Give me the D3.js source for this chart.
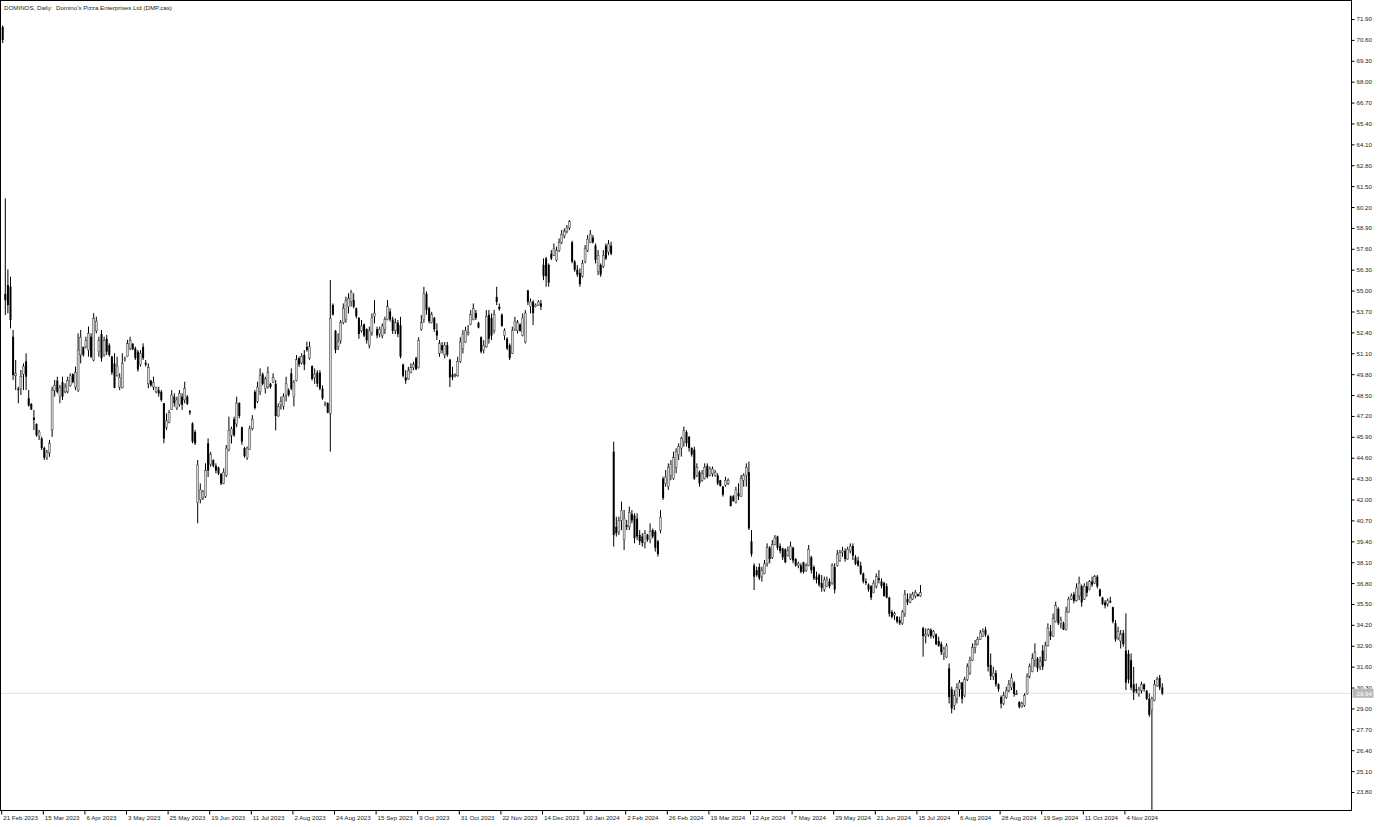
<!DOCTYPE html>
<html>
<head>
<meta charset="utf-8">
<script src="https://cdn.jsdelivr.net/npm/d3@7"></script>
<style>
  html, body { margin: 0; padding: 0; background: #fff; }
  svg { display: block; }
</style>
</head>
<body>
<div id="chart"></div>
<script>
// ============================
// Data: daily bars as [open, high, low, close]
// ============================

const symbolTitle = "DOMINOS, Daily:  Domino's Pizza Enterprises Ltd (DMP.cas)";

const barsFebJun2023 = [
  [71.40,71.50,70.40,70.60],[54.80,60.74,53.48,54.40],[55.35,56.32,53.59,54.10],[55.24,55.87,52.65,53.17],
  [52.13,52.55,49.44,49.75],[49.70,50.68,48.81,49.85],[48.90,49.02,47.99,48.80],[48.90,50.06,48.50,49.64],
  [49.80,50.47,48.81,50.30],[50.60,51.10,48.81,49.64],[48.30,48.81,47.78,47.85],[47.95,47.99,47.57,47.60],
  [47.10,47.57,46.33,46.95],[46.70,46.74,45.91,46.00],[45.95,46.33,45.70,46.20],[45.80,45.91,45.08,45.20],
  [45.20,45.29,44.46,44.60],[44.60,45.08,44.46,44.95],[44.90,45.70,44.66,45.50],[46.33,49.02,45.90,48.81],
  [48.80,49.44,48.40,49.10],[49.40,49.64,48.61,48.70],[48.40,49.13,47.99,48.95],[49.30,49.64,48.19,48.40],
  [48.70,49.23,48.61,49.00],[48.70,49.64,48.61,49.40],[49.10,49.85,49.02,49.70],[49.80,49.85,49.23,49.30],
  [49.00,50.27,48.81,49.90],[48.81,52.34,48.70,51.30],[51.00,52.55,50.47,52.10],[51.50,51.51,50.89,51.00],
  [51.50,52.13,51.40,51.90],[51.30,52.76,50.89,52.34],[52.13,52.34,50.80,50.89],[50.68,53.59,50.60,53.27],
  [52.50,53.38,52.34,53.10],[51.20,52.13,50.89,51.90],[52.30,52.55,50.58,50.80],[51.00,52.13,50.89,51.90],
  [52.00,52.24,50.99,51.20],[51.60,51.72,50.89,51.00],[50.89,50.95,49.75,49.90],[50.47,51.10,48.92,48.95],
  [49.70,50.89,49.64,50.30],[49.00,49.85,48.81,49.60],[48.95,51.10,48.92,50.47],[50.70,50.89,50.58,50.75],
  [50.90,51.93,50.89,51.70],[51.40,52.13,51.30,51.90],[51.70,51.72,51.30,51.35],[51.40,51.51,50.68,50.80],
  [51.20,51.30,49.96,50.10],[50.40,51.30,50.27,51.10],[51.50,51.72,50.68,50.80],[50.50,50.68,50.27,50.40],
  [49.20,50.47,48.92,50.20],[49.40,49.44,49.02,49.10],[49.00,49.64,48.81,49.30],[48.70,49.02,48.61,48.95],
  [48.80,49.02,48.40,48.60],[48.70,48.81,48.09,48.20],[47.99,48.00,45.50,45.80],[46.50,47.36,46.33,46.90],
  [46.80,47.57,46.74,47.40],[47.60,48.81,47.57,48.50],[48.40,48.61,47.78,48.00],[47.70,48.40,47.57,48.20],
  [47.90,48.81,47.78,48.60],[48.40,48.61,47.57,47.90],[48.20,49.33,47.99,48.90],[48.40,48.50,47.88,47.95],
  [47.50,47.57,47.26,47.40],[46.74,46.80,45.50,45.60],[46.20,46.33,45.39,45.50],[41.80,44.46,40.52,44.15]
];

const barsJunOct2023 = [
  [42.00,43.00,41.76,42.60],[42.10,42.59,41.97,42.50],[42.20,44.25,42.10,43.80],[45.50,45.80,43.40,43.80],
  [44.20,44.97,44.04,44.80],[44.45,44.50,44.00,44.10],[44.10,44.25,43.63,43.80],[44.00,44.04,43.52,43.60],
  [43.60,43.63,42.90,43.00],[43.00,43.94,42.95,43.70],[43.50,45.39,43.40,45.20],[45.10,47.15,45.00,46.30],
  [46.00,46.53,45.49,46.40],[47.00,47.15,45.90,46.00],[46.70,48.40,46.50,48.00],[48.00,48.05,47.05,47.20],
  [46.50,46.53,45.40,45.60],[45.20,45.28,44.60,44.70],[44.60,45.30,44.46,45.20],[45.10,46.60,45.08,46.40],
  [46.40,47.25,46.30,47.00],[48.70,48.81,47.60,47.70],[48.10,49.33,48.00,49.00],[48.70,50.16,48.50,49.70],
  [49.80,49.90,49.10,49.20],[48.90,49.64,48.60,49.50],[49.00,50.27,48.90,49.90],[49.20,49.25,48.90,49.00],
  [49.30,49.85,49.25,49.60],[49.20,49.43,46.30,47.20],[47.20,47.98,47.15,47.80],[47.90,48.40,47.60,48.10],
  [47.80,48.60,47.60,48.40],[48.50,49.64,48.10,49.20],[48.80,48.92,48.40,48.50],[49.85,50.16,48.80,48.90],
  [48.40,49.43,47.80,49.30],[49.40,50.99,49.35,50.70],[50.80,50.89,50.25,50.40],[50.50,51.10,50.40,50.90],
  [51.00,51.30,50.05,50.40],[51.50,51.82,51.20,51.30],[50.80,51.82,50.70,51.50],[50.30,50.35,49.40,49.50],
  [49.60,50.16,49.20,49.80],[49.90,50.05,49.00,49.20],[49.90,50.05,48.80,48.90],[48.90,49.10,48.20,48.30],
  [47.90,48.10,47.80,47.95],[48.00,48.05,47.37,47.40],[47.36,55.66,44.98,53.27],[54.10,54.20,53.45,53.50],
  [52.50,52.55,51.10,51.30],[51.50,52.34,51.30,51.80],[51.90,53.17,51.70,53.00],[53.00,54.20,52.90,53.90],
  [53.20,54.62,53.00,54.40],[54.00,54.83,53.58,54.50],[54.30,55.04,54.00,54.90],[54.40,54.83,53.90,54.00],
  [53.90,53.95,53.27,53.40],[53.30,53.35,52.00,52.30],[52.50,53.17,52.40,52.80],[52.90,52.95,52.10,52.20],
  [52.60,52.65,51.70,51.90],[51.60,52.76,51.40,52.50],[52.40,53.58,52.20,53.30],[53.40,54.41,52.96,53.60],
  [52.60,52.76,52.03,52.20],[52.30,52.76,52.10,52.60],[52.20,52.96,52.03,52.80],[52.60,53.38,52.30,53.20],
  [53.20,54.41,53.15,54.00],[53.70,53.90,53.07,53.20],[53.20,53.38,52.30,52.50]
];

const barsOct2023Jan2024 = [
  [52.50,53.27,52.30,53.00],[53.00,53.17,52.10,52.30],[52.85,53.37,50.78,50.90],[50.40,50.45,49.60,49.70],
  [49.60,50.05,49.20,49.40],[49.50,50.26,49.45,50.00],[49.90,50.47,49.85,50.20],[50.20,50.57,50.05,50.40],
  [50.80,50.88,50.05,50.10],[50.20,52.10,50.15,51.90],
  [52.60,53.48,52.50,53.00],[53.20,55.24,53.00,54.80],[54.80,54.95,53.50,53.80],[53.90,54.00,52.96,53.10],
  [53.00,53.68,52.95,53.50],[53.30,53.37,52.44,52.60],[52.50,52.96,51.92,52.20],[51.10,51.92,50.88,51.70],
  [51.60,51.80,51.09,51.30],[51.00,51.80,50.78,51.60],[51.60,51.80,50.88,51.00],[50.70,50.75,49.00,49.60],
  [49.80,50.26,49.43,49.60],[49.70,49.85,49.60,49.75],[49.70,50.88,49.64,50.60],[50.60,52.10,50.50,51.80],
  [51.40,52.54,51.09,52.30],[51.80,52.75,51.75,52.50],[52.30,52.85,52.20,52.40],[52.90,53.79,52.85,53.50],
  [53.20,54.20,53.15,53.90],[53.60,53.79,53.17,53.30],[53.00,53.05,52.65,52.70],[52.10,52.15,51.09,51.20],
  [51.30,51.92,51.09,51.60],[51.50,53.79,51.45,53.40],[53.50,53.79,51.70,52.00],[53.30,53.58,51.92,52.20],
  [52.50,53.79,52.33,53.50],[54.60,55.24,54.10,54.30],[54.00,54.20,53.75,53.85],[53.50,53.58,52.75,52.80],
  [52.20,52.65,51.92,52.50],[52.00,52.10,51.30,51.40],[51.60,51.71,50.68,50.80],
  [51.10,52.75,51.05,52.50],[52.60,53.37,52.50,53.10],[52.50,53.17,52.33,53.00],[52.90,52.96,52.44,52.50],
  [52.20,53.58,52.15,53.30],[51.80,53.79,51.71,53.60],[55.00,55.05,54.10,54.30],
  [54.00,54.51,53.58,54.30],[54.30,54.41,52.85,53.60],[54.00,54.20,53.95,54.10],[54.10,54.41,54.05,54.30],
  [54.20,54.41,53.79,54.00],[56.60,57.00,55.65,55.90],[57.00,57.10,55.24,55.90],[56.60,56.69,55.24,55.50],
  [57.30,57.52,56.90,57.00],[57.20,57.93,57.15,57.60],[56.90,57.73,56.80,57.50],[57.50,58.25,57.40,58.00],
  [58.00,58.77,57.90,58.50],[58.40,58.87,58.25,58.70],[58.70,59.08,58.56,58.90],[58.90,59.39,58.77,59.30],
  [58.00,58.10,56.70,56.80],[56.80,56.90,56.17,56.30],[56.30,56.59,55.86,56.00],[56.10,56.38,55.24,55.40],
  [55.90,56.90,55.80,56.70],[56.80,57.83,56.70,57.60],[57.50,58.46,57.40,58.20],[58.00,58.77,57.95,58.50],
  [58.30,58.46,57.93,58.00],[57.80,57.93,56.69,56.90],[56.20,57.52,55.96,57.20],[56.60,56.69,55.86,56.00],
  [56.50,57.52,56.40,57.20],[57.80,57.93,56.90,57.00],[57.40,58.14,57.20,57.90],[57.80,58.04,57.20,57.30]
];

const barsFebMay2024 = [
  [44.98,45.60,39.07,39.79],[40.30,40.93,39.69,39.90],[40.00,40.93,39.79,40.70],[40.70,41.87,40.10,41.30],
  [39.50,41.35,38.86,40.80],[40.40,40.73,40.10,40.30],[40.30,41.56,40.10,41.20],[41.10,41.35,40.52,40.70],
  [41.00,41.14,39.28,39.60],[40.80,41.14,39.48,39.70],[39.80,40.10,39.17,39.40],[39.70,39.90,39.07,39.30],
  [39.30,40.10,38.96,39.90],[39.80,39.85,39.38,39.50],[39.50,40.52,39.28,40.00],[40.10,40.20,39.59,39.70],
  [40.00,40.10,38.76,39.00],[39.40,39.48,38.45,38.60],[40.10,41.35,39.90,40.90],[43.30,43.42,41.97,42.10],
  [43.00,43.84,42.80,43.40],[42.80,44.25,42.60,44.00],[43.50,44.46,43.20,44.20],[43.30,44.98,43.22,44.60],
  [44.00,45.19,43.63,45.00],[44.80,45.50,44.46,45.30],[45.20,45.91,44.67,45.80],[45.60,46.54,45.29,46.30],
  [46.20,46.30,45.29,45.50],[45.90,45.95,44.98,45.20],[45.20,45.25,44.67,44.80],[45.10,45.29,43.22,43.30],
  [43.50,44.25,43.40,44.00],[43.70,43.80,42.80,43.00],[43.20,43.84,43.10,43.60],[43.30,44.25,43.25,44.00],
  [44.10,44.25,43.32,43.40],[43.50,44.05,43.45,43.90],[43.60,44.05,43.42,43.90],[43.50,43.84,43.42,43.70],
  [43.50,43.63,42.90,43.00],[43.20,43.22,42.80,42.85],[42.80,42.85,42.18,42.30],[42.90,43.42,42.80,43.20],
  [43.00,43.32,42.90,43.20],[42.20,42.25,41.56,41.60],[42.20,42.28,41.87,41.90],[41.80,42.80,41.75,42.60],
  [42.40,43.01,41.97,42.20],[42.20,43.53,42.18,43.30],[43.20,43.63,42.80,43.50],[43.50,44.25,42.80,44.00],
  [43.70,44.36,40.10,40.20],[39.40,40.10,38.45,38.60],[37.90,38.03,36.37,37.20],[37.60,37.82,37.20,37.30],
  [37.80,38.03,36.99,37.10],[37.20,37.82,36.89,37.60],[37.40,38.24,37.35,38.00],[38.00,39.27,37.82,39.00],
  [39.00,39.10,38.03,38.30],[38.40,39.48,38.30,39.20],[39.20,39.79,39.15,39.60],[39.70,39.75,38.86,39.00],
  [39.10,39.27,38.65,38.80],[38.95,39.00,38.24,38.40],[38.90,38.96,38.03,38.10],[38.50,39.07,38.45,38.80],
  [38.30,39.38,38.24,39.10],[39.00,39.07,38.03,38.20],[38.30,38.35,37.82,37.90],[37.90,38.13,37.72,38.00],
  [37.90,38.03,37.41,37.50]
];

const barsMayAug2024 = [
  [38.10,38.13,37.40,37.50],[37.60,38.03,37.50,37.90],[37.90,39.17,37.85,38.90],[38.40,38.50,37.40,37.60],
  [37.80,37.90,36.99,37.10],[37.20,37.51,36.78,37.00],[37.30,37.40,36.57,36.70],[36.80,37.30,36.26,36.50],
  [36.40,37.20,36.26,37.00],[36.60,37.20,36.55,37.00],[36.90,37.09,36.47,36.60],[36.80,38.03,36.70,37.90],
  [37.80,38.03,36.16,36.40],[37.90,38.86,37.82,38.60],[38.20,38.86,38.13,38.70],[38.70,39.06,38.44,38.80],
  [38.80,38.96,38.13,38.30],[38.30,39.06,38.25,38.90],[38.80,39.27,38.65,39.10],[39.10,39.27,38.23,38.50],
  [38.40,38.54,37.92,38.00],[38.20,38.44,37.82,37.90],[37.90,38.13,37.30,37.40],[37.40,37.45,36.78,36.90],
  [36.90,37.09,36.68,36.80],[36.70,36.78,36.26,36.40],[36.60,36.68,35.74,35.90],[36.20,36.99,36.16,36.80],
  [36.60,37.40,36.47,37.20],[37.10,37.61,36.78,37.00],[36.90,37.09,36.47,36.60],[36.80,36.88,35.95,36.00],
  [36.60,36.78,35.85,35.90],[35.90,35.95,34.71,34.90],[35.00,35.12,34.60,34.70],[34.80,35.02,34.50,34.90],
  [34.70,34.75,34.29,34.40],[34.50,34.71,34.19,34.30],[34.30,35.12,34.20,35.00],[34.90,36.37,34.70,36.10],
  [35.80,36.16,35.43,35.60],[35.60,36.16,35.54,35.90],[35.80,36.26,35.74,36.10],[36.00,36.37,35.85,36.20],
  [36.10,36.16,35.95,36.00],[36.00,36.68,35.95,36.20],[34.00,34.08,32.22,33.50],[33.50,33.98,33.05,33.60],
  [33.60,33.98,33.46,33.90],[33.90,33.98,33.36,33.50],[33.50,33.88,33.36,33.80],[33.60,33.67,32.94,33.00],
  [33.20,33.46,32.84,32.90],[33.00,33.15,32.32,32.50],[32.40,32.84,32.01,32.70],[32.20,33.05,32.15,32.90],
  [31.50,31.80,29.31,29.70],[30.20,30.35,28.69,29.00],[29.20,30.14,28.90,29.80],[29.60,30.56,29.31,30.30],
  [30.20,30.77,29.73,30.60],[30.60,30.66,29.31,29.60],[29.80,30.97,29.70,30.80],[30.80,31.80,30.70,31.60],
  [31.20,32.22,31.10,32.00],[32.00,33.05,31.95,32.80],[32.80,33.26,32.42,33.00],[33.00,33.46,32.94,33.30],
  [33.30,33.88,33.26,33.70]
];

const barsAugNov2024 = [
  [33.50,33.98,33.45,33.80],[33.90,34.08,33.46,33.60],[33.50,33.60,31.30,31.60],[31.70,32.42,30.77,31.00],
  [31.00,31.59,30.77,31.20],[31.20,31.39,30.35,30.50],[30.50,30.56,30.04,30.20],[29.70,29.80,29.00,29.30],
  [29.30,30.04,29.20,29.80],[29.70,30.35,29.60,30.10],[30.10,30.77,30.00,30.50],[30.30,31.18,30.14,30.90],
  [30.60,30.70,29.73,29.90],[29.90,30.14,29.83,29.90],[29.40,29.45,29.00,29.10],[29.10,29.42,29.05,29.30],
  [29.20,29.94,29.10,29.80],[29.90,31.18,29.85,31.00],[31.00,31.80,30.87,31.60],[31.30,32.42,31.25,32.10],
  [32.00,33.05,31.59,32.50],[32.10,32.20,31.28,31.50],[31.60,32.22,31.39,31.90],[32.60,32.94,31.39,31.60],
  [32.00,33.15,31.95,32.90],[32.90,34.29,32.85,34.00],[33.80,34.19,33.25,33.50],[33.50,34.91,33.45,34.60],
  [34.40,35.64,34.35,35.40],[35.20,35.30,34.19,34.30],[34.30,34.71,33.98,34.50],[34.30,34.40,33.88,33.90],
  [33.90,35.33,33.85,35.00],[35.00,35.95,34.95,35.80],[35.80,36.16,35.74,36.00],[36.10,36.26,35.54,35.70],
  [35.70,36.78,35.65,36.50],[36.00,37.20,35.74,36.80],[36.60,36.70,35.33,35.60],[35.80,36.78,35.75,36.60],
  [36.60,36.88,35.95,36.20],[36.40,36.99,36.35,36.90],[36.90,37.20,36.57,36.70],[36.80,37.30,36.75,37.20],
  [37.20,37.30,36.47,36.60],[36.40,36.45,35.95,36.00],[35.90,35.95,35.43,35.50],[35.60,35.74,35.22,35.40],
  [35.50,35.85,35.33,35.70],[35.70,35.95,35.54,35.60],[35.30,35.33,34.29,34.40],[34.30,34.50,33.15,33.30],
  [33.40,34.08,33.25,33.80],[33.20,33.88,32.73,33.60],[33.70,33.88,32.84,33.00],[32.60,34.91,30.14,30.60],
  [32.40,32.63,30.56,30.80],[32.00,32.42,30.14,30.30],[30.50,31.59,29.52,30.00],[30.20,30.56,29.94,30.10],
  [29.90,30.35,29.73,30.20],[30.10,30.66,29.94,30.50],[30.50,30.56,30.04,30.20],[30.10,30.14,29.52,29.60],
  [29.60,29.94,28.48,28.60],[28.90,29.73,22.68,29.60],[29.50,30.77,29.45,30.50],[30.40,30.97,30.35,30.80],
  [30.90,31.08,30.14,30.30],[30.30,30.56,29.83,29.94]
];

// Bar numbers that carry a date label, and the labels themselves
const tickBars = [0, 16, 32, 48, 64, 80, 96, 112, 128, 144, 160, 176, 192, 208,
                  224, 240, 256, 272, 288, 304, 320, 336, 352, 368, 384, 400, 416, 432];
const tickLabels = ["21 Feb 2023", "15 Mar 2023", "6 Apr 2023", "3 May 2023", "25 May 2023",
  "19 Jun 2023", "11 Jul 2023", "2 Aug 2023", "24 Aug 2023", "15 Sep 2023", "9 Oct 2023",
  "31 Oct 2023", "22 Nov 2023", "14 Dec 2023", "10 Jan 2024", "2 Feb 2024", "26 Feb 2024",
  "19 Mar 2024", "12 Apr 2024", "7 May 2024", "29 May 2024", "21 Jun 2024", "15 Jul 2024",
  "6 Aug 2024", "28 Aug 2024", "19 Sep 2024", "11 Oct 2024", "4 Nov 2024"];

const priceTicks = [23.80, 25.10, 26.40, 27.70, 29.00, 30.30, 31.60, 32.90, 34.20, 35.50,
  36.80, 38.10, 39.40, 40.70, 42.00, 43.30, 44.60, 45.90, 47.20, 48.50, 49.80, 51.10, 52.40,
  53.70, 55.00, 56.30, 57.60, 58.90, 60.20, 61.50, 62.80, 64.10, 65.40, 66.70, 68.00, 69.30,
  70.60, 71.90];

// ============================
// Layout
// ============================
const width = 1379, height = 827;
const plot = { left: 0.5, top: 0.5, right: 1351.5, bottom: 810.5 };
const firstBarX = 2.7, barStep = 2.6, bodyWidth = 2;
const fontFamily = "'Liberation Sans', Arial, sans-serif";
const fontSize = 6.2;

function drawChart() {
  const bars = [].concat(barsFebJun2023, barsJunOct2023, barsOct2023Jan2024,
                         barsFebMay2024, barsMayAug2024, barsAugNov2024)
    .map((d, i) => ({ i: i, o: d[0], h: d[1], l: d[2], c: d[3] }));
  const lastPrice = bars[bars.length - 1].c;

  const svg = d3.select("#chart").append("svg")
    .attr("width", width)
    .attr("height", height)
    .attr("viewBox", [0, 0, width, height]);

  const x = d3.scaleLinear()
    .domain([0, bars.length - 1])
    .range([firstBarX, firstBarX + barStep * (bars.length - 1)]);

  // tick positions
  const y = d3.scaleLinear()
    .domain([23.80, 71.90])
    .range([792, 19]);

  // current price line (dotted)
  svg.append("line")
    .attr("x1", plot.left).attr("x2", plot.right)
    .attr("y1", y(lastPrice)).attr("y2", y(lastPrice))
    .attr("stroke", "#c4c4c4")
    .attr("stroke-width", 1)
    .attr("stroke-dasharray", "1,1");

  // ============================
  // Candles
  // ============================
  const candles = svg.append("g");

  candles.selectAll(".wick")
    .data(bars)
    .join("line")
    .attr("class", "wick")
    .attr("x1", d => x(d.i)).attr("x2", d => x(d.i))
    .attr("y1", d => y(Math.max(d.h, d.o, d.c)))
    .attr("y2", d => y(Math.min(d.l, d.o, d.c)))
    .attr("stroke", "#000")
    .attr("stroke-width", 1);

  candles.selectAll(".body")
    .data(bars)
    .join("rect")
    .attr("class", "body")
    .attr("x", d => x(d.i) - bodyWidth / 2)
    .attr("width", bodyWidth)
    .attr("y", d => y(Math.max(d.o, d.c)))
    .attr("height", d => Math.max(0.8, Math.abs(y(d.o) - y(d.c))))
    .attr("fill", d => d.c >= d.o ? "#d6d6d6" : "#000")
    .attr("stroke", d => d.c >= d.o ? "#3a3a3a" : "none")
    .attr("stroke-width", 0.5);

  // ============================
  // Frame and axes
  // ============================
  svg.append("rect")
    .attr("x", plot.left).attr("y", plot.top)
    .attr("width", plot.right - plot.left)
    .attr("height", plot.bottom - plot.top)
    .attr("fill", "none")
    .attr("stroke", "#000")
    .attr("stroke-width", 1);

  const yAxis = svg.append("g")
    .attr("transform", `translate(${plot.right},0)`)
    .call(d3.axisRight(y).tickValues(priceTicks).tickFormat(d3.format(".2f")).tickSize(3).tickPadding(2));
  yAxis.select(".domain").remove();
  yAxis.selectAll("line").attr("stroke", "#000");
  yAxis.selectAll("text")
    .attr("font-family", fontFamily)
    .attr("font-size", fontSize)
    .attr("fill", "#222");

  const xAxis = svg.append("g")
    .attr("transform", `translate(-1.5,${plot.bottom})`)
    .call(d3.axisBottom(x).tickValues(tickBars).tickFormat((d, k) => tickLabels[k]).tickSize(4).tickPadding(1));
  xAxis.select(".domain").remove();
  xAxis.selectAll("line").attr("stroke", "#000");
  xAxis.selectAll("text")
    .attr("text-anchor", "start")
    .attr("dx", 1.5)
    .attr("font-family", fontFamily)
    .attr("font-size", fontSize)
    .attr("fill", "#222");

  // current price tag on the scale
  const tag = svg.append("g")
    .attr("transform", `translate(${plot.right + 1},${y(lastPrice)})`);
  tag.append("rect")
    .attr("x", 0).attr("y", -4.5)
    .attr("width", 21).attr("height", 9)
    .attr("fill", "#b9b9b9");
  tag.append("text")
    .attr("x", 4).attr("y", 0)
    .attr("dominant-baseline", "central")
    .attr("font-family", fontFamily)
    .attr("font-size", fontSize)
    .attr("fill", "#fff")
    .text(d3.format(".2f")(lastPrice));

  // title
  svg.append("text")
    .attr("x", 4).attr("y", 7)
    .attr("dominant-baseline", "central")
    .attr("font-family", fontFamily)
    .attr("font-size", fontSize)
    .attr("fill", "#222")
    .attr("xml:space", "preserve")
    .style("white-space", "pre")
    .text(symbolTitle);
}

drawChart();
</script>
</body>
</html>
